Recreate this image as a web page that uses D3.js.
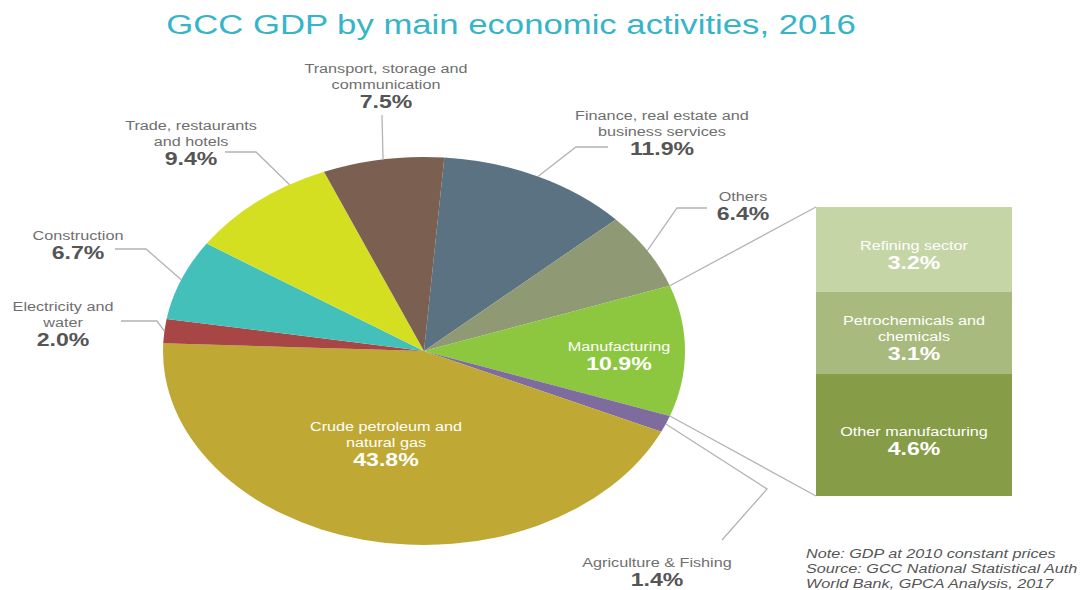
<!DOCTYPE html>
<html>
<head>
<meta charset="utf-8">
<script src="https://cdn.jsdelivr.net/npm/d3@7"></script>
<style>
  html, body { margin: 0; padding: 0; background: #ffffff; }
  svg { display: block; font-family: "Liberation Sans", Arial, Helvetica, sans-serif; }
</style>
</head>
<body>
<svg id="chart" width="1092" height="590"></svg>
<script>
// GDP shares by activity, clockwise from the top of the pie
const sectors = [
  "Finance, real estate and|business services",
  "Others",
  "Manufacturing",
  "Agriculture & Fishing",
  "Crude petroleum and|natural gas",
  "Electricity and|water",
  "Construction",
  "Trade, restaurants|and hotels",
  "Transport, storage and|communication"
];
const shares = [11.9, 6.4, 10.9, 1.4, 43.8, 2.0, 6.7, 9.4, 7.5];
const sectorColors = ["#5a7281", "#8f9a74", "#8dc63f", "#7f6c9f", "#bfa833", "#a84646", "#43c0ba", "#d5df22", "#7b6052"];

// Breakdown of manufacturing
const manufParts = ["Refining sector", "Petrochemicals and|chemicals", "Other manufacturing"];
const manufShares = [3.2, 3.1, 4.6];
const manufColors = ["#c6d5a6", "#a8ba7d", "#869c47"];

const noteLines = [
  "Note: GDP at 2010 constant prices",
  "Source: GCC National Statistical Auth",
  "World Bank, GPCA Analysis, 2017"
];

const svg = d3.select("#chart");

// ---- geometry of the (elliptical) pie
const cx = 424, cy = 351, rx = 261, ry = 194;
const startOffset = 0.078;

const pie = d3.pie().sort(null).value(d => d)
  .startAngle(startOffset).endAngle(startOffset + 2 * Math.PI);
const arcs = pie(shares);
const arc = d3.arc().innerRadius(0).outerRadius(ry);

const onRim = a => [cx + rx * Math.sin(a), cy - ry * Math.cos(a)];

// text helper: stretched horizontally like the rest of the graphic
function label(g, x, y, str, o) {
  const t = g.append("text")
    .attr("transform", `translate(${x},${y}) scale(${o.sx || 1.2},1)`)
    .attr("text-anchor", o.anchor || "middle")
    .attr("font-size", o.size)
    .attr("font-weight", o.weight || "normal")
    .attr("font-style", o.style || "normal")
    .attr("fill", o.fill)
    .text(str);
  return t;
}

function block(g, x, y, name, pct, o) {
  const lines = name.split("|");
  lines.forEach((ln, i) => {
    label(g, x, y + i * o.lh, ln, { size: 13.5, sx: 1.2, fill: o.textFill });
  });
  label(g, x, y + (lines.length - 1) * o.lh + o.pctGap, pct.toFixed(1) + "%",
    { size: 17.5, sx: 1.32, weight: "bold", fill: o.pctFill });
}

// ---- title
label(svg, 511, 34, "GCC GDP by main economic activities, 2016",
  { size: 28, sx: 1.24, fill: "#36b5c9" });

// ---- pie slices
const pieG = svg.append("g")
  .attr("transform", `translate(${cx},${cy}) scale(${rx / ry},1)`);
pieG.selectAll("path")
  .data(arcs)
  .join("path")
  .attr("d", arc)
  .attr("fill", (d, i) => sectorColors[i]);

// ---- manufacturing breakdown bar
const barX = 816, barW = 196;
const yBar = d3.scaleLinear()
  .domain([0, d3.sum(manufShares)])
  .range([207, 496]);
const stackStarts = d3.cumsum([0].concat(manufShares.slice(0, -1)));
const barG = svg.append("g");
barG.selectAll("rect")
  .data(manufShares)
  .join("rect")
  .attr("x", barX)
  .attr("width", barW)
  .attr("y", (d, i) => yBar(stackStarts[i]))
  .attr("height", d => yBar(d) - yBar(0))
  .attr("fill", (d, i) => manufColors[i]);

// connectors from the manufacturing slice to the bar
const lineColor = "#b3b3b3";
const manuf = arcs[2];
const pTop = onRim(manuf.startAngle), pBot = onRim(manuf.endAngle);
svg.append("line").attr("x1", pTop[0]).attr("y1", pTop[1])
  .attr("x2", barX).attr("y2", yBar(0))
  .attr("stroke", lineColor).attr("stroke-width", 1.3);
svg.append("line").attr("x1", pBot[0]).attr("y1", pBot[1])
  .attr("x2", barX).attr("y2", yBar(d3.sum(manufShares)))
  .attr("stroke", lineColor).attr("stroke-width", 1.3);

// bar labels, centred on each segment
manufParts.forEach((name, i) => {
  const mid = (yBar(stackStarts[i]) + yBar(stackStarts[i] + manufShares[i])) / 2;
  const n = name.split("|").length;
  const top = mid - ((n - 1) * 16 + 19) / 2 + 10;
  block(svg, barX + barW / 2, top, name, manufShares[i],
    { lh: 16, pctGap: 19, textFill: "#ffffff", pctFill: "#ffffff" });
});

// ---- leader lines and outside labels
// [slice index, position inside slice (0..1), elbow, end, label x, label baseline]
const outside = [
  [0, 0.5, [576, 147], [608, 147], 662, 120],
  [1, 0.5, [677, 208], [707, 208], 743, 201],
  [3, 0.5, [767, 489], [722, 540], 657, 567],
  [5, 0.5, [157, 321], [121, 321], 63, 311],
  [6, 0.5, [146, 249], [115, 249], 78, 240],
  [7, 0.75, [256, 152], [225, 152], 191, 130],
  [8, 0.5, [382, 115], [382, 115], 386, 73]
];
const leaders = svg.append("g");
outside.forEach(([i, f, elbow, end, lx, ly]) => {
  const a = arcs[i].startAngle + f * (arcs[i].endAngle - arcs[i].startAngle);
  const p = onRim(a);
  leaders.append("path")
    .attr("d", d3.line()([p, elbow, end]))
    .attr("fill", "none")
    .attr("stroke", lineColor)
    .attr("stroke-width", 1.3);
  block(svg, lx, ly, sectors[i], shares[i],
    { lh: 16, pctGap: 19, textFill: "#6f6f6f", pctFill: "#555555" });
});

// ---- labels inside the pie
block(svg, 619, 351, sectors[2], shares[2],
  { lh: 16, pctGap: 19, textFill: "#ffffff", pctFill: "#ffffff" });
block(svg, 386, 431, sectors[4], shares[4],
  { lh: 16, pctGap: 19, textFill: "#ffffff", pctFill: "#ffffff" });

// ---- notes
noteLines.forEach((ln, i) => {
  label(svg, 806, 558 + i * 15, ln,
    { size: 13.5, sx: 1.2, anchor: "start", style: "italic", fill: "#555555" });
});
</script>
</body>
</html>
